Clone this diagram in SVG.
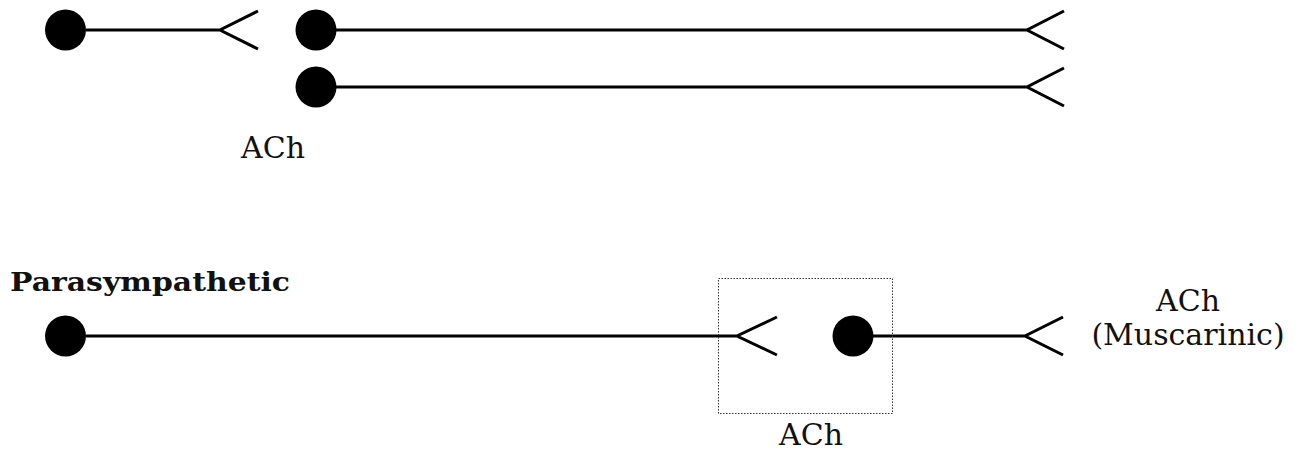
<svg xmlns="http://www.w3.org/2000/svg" width="1298" height="450" viewBox="0 0 1298 450">
  <style>
    .axon { stroke: #000; stroke-width: 3; fill: none; }
    .soma { fill: #000; }
    .lbl { font-family: "DejaVu Serif", "Liberation Serif", serif; font-size: 30px; fill: #111; text-anchor: middle; }
    .title { font-family: "DejaVu Serif", "Liberation Serif", serif; font-size: 26px; font-weight: bold; fill: #111; }
    .ganglion { fill: none; stroke: #333; stroke-width: 1; stroke-dasharray: 1.5 1.5; }
  </style>
  <rect width="1298" height="450" fill="#fff"/>

  <!-- connectors: axons ending in a forked terminal -->
  <g id="connectors">
    <path class="axon" d="M86 30 H220 M258 11 L220 30 L258 49"/>
    <path class="axon" d="M336 30 H1027 M1064 11 L1027 30 L1064 49"/>
    <path class="axon" d="M336 87 H1027 M1064 68 L1027 87 L1064 106"/>
    <path class="axon" d="M86 336 H737 M777 317 L737 336 L777 355"/>
    <path class="axon" d="M873 336 H1025 M1063 317 L1025 336 L1063 355"/>
  </g>

  <!-- upper pathway -->
  <g id="pre-neuron-1"><circle class="soma" cx="65.5" cy="30" r="20.5"/></g>
  <g id="post-neuron-1"><circle class="soma" cx="316" cy="30" r="20.5"/></g>
  <g id="post-neuron-2"><circle class="soma" cx="316" cy="87" r="20.5"/></g>
  <g id="label-upper"><text class="lbl" x="273" y="158">ACh</text></g>

  <!-- parasympathetic pathway -->
  <g id="title-parasympathetic"><text class="title" x="10" y="291" textLength="280" lengthAdjust="spacingAndGlyphs">Parasympathetic</text></g>
  <g id="pre-neuron-para"><circle class="soma" cx="65.5" cy="336" r="20.5"/></g>
  <g id="ganglion">
    <rect class="ganglion" x="718.5" y="278.5" width="174" height="135"/>
    <text class="lbl" x="811" y="445">ACh</text>
  </g>
  <g id="post-neuron-para"><circle class="soma" cx="853" cy="336" r="20.5"/></g>
  <g id="label-target">
    <text class="lbl" x="1188" y="311">ACh</text>
    <text class="lbl" x="1188" y="345">(Muscarinic)</text>
  </g>
</svg>
